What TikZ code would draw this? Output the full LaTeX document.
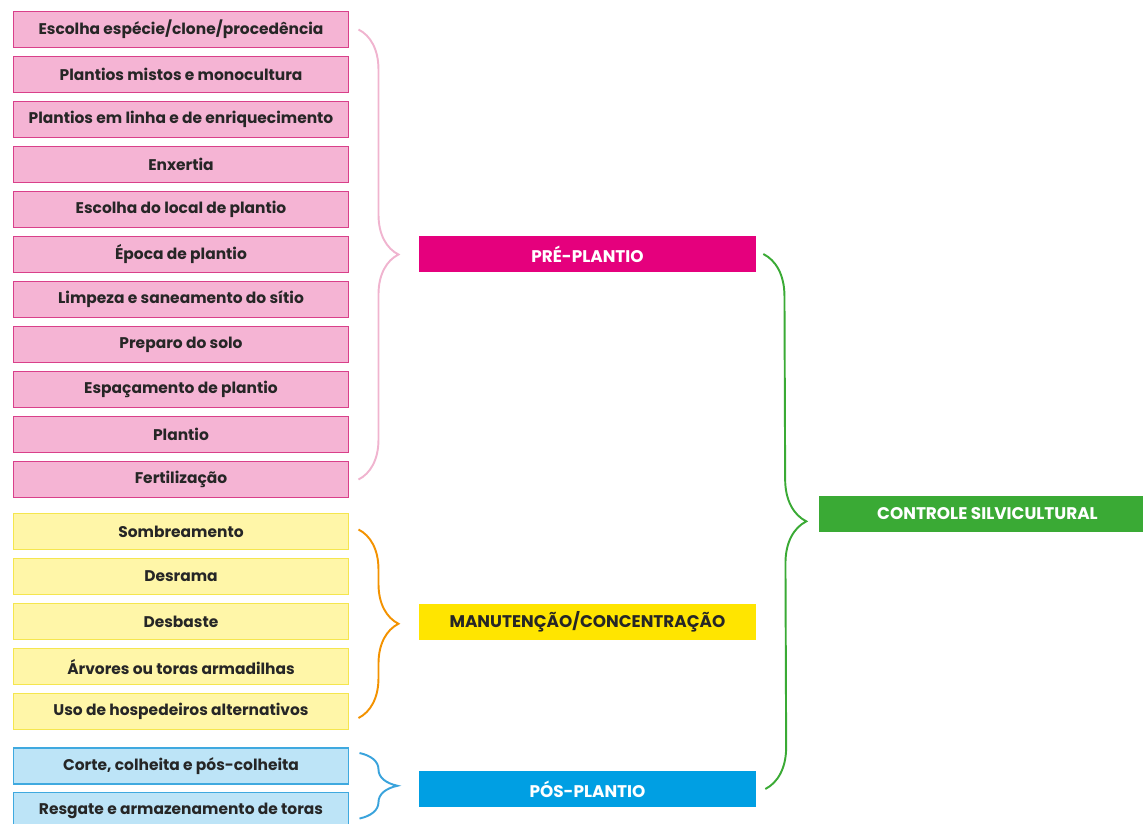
\documentclass[tikz,border=0pt]{standalone}
\usepackage{fontspec}
\setmainfont{Poppins}
\usepackage{xcolor}
\usetikzlibrary{decorations.pathreplacing}
\definecolor{prefill}{HTML}{F5B4D4}
\definecolor{preline}{HTML}{D9408A}
\definecolor{prehead}{HTML}{E5007D}
\definecolor{prebrace}{HTML}{F0B4CF}
\definecolor{manfill}{HTML}{FFF6A8}
\definecolor{manline}{HTML}{F5E64E}
\definecolor{manhead}{HTML}{FFE500}
\definecolor{manbrace}{HTML}{F39200}
\definecolor{posfill}{HTML}{BDE4F7}
\definecolor{posline}{HTML}{3FA9DF}
\definecolor{poshead}{HTML}{009FE3}
\definecolor{posbrace}{HTML}{3AA3DC}
\definecolor{ctrlgreen}{HTML}{3AAA35}

\begin{document}
\begin{tikzpicture}[x=0.02cm, y=-0.02cm,
    item/.style={rectangle, draw, line width=0.6pt, minimum width=6.72cm, minimum height=0.72cm, inner sep=0pt, font=\bfseries\fontsize{8.8}{10}\selectfont, text=black!85},
    preitem/.style={item, fill=prefill, draw=preline},
    manitem/.style={item, fill=manfill, draw=manline},
    positem/.style={item, fill=posfill, draw=posline},
    stage/.style={rectangle, minimum width=6.74cm, minimum height=0.72cm, inner sep=0pt, font=\bfseries\fontsize{9.6}{11}\selectfont},
    bracket/.style={decorate, decoration={brace, amplitude=0.8cm}, line width=1.1pt}
]
    \clip (0,0) rectangle (1143,823);

    % pre-plantio items
    \node[preitem] (esp) at (181,29.5) {Escolha espécie/clone/procedência};
    \node[preitem] (mix) at (181,74.5) {Plantios mistos e monocultura};
    \node[preitem] (lin) at (181,119.5) {Plantios em linha e de enriquecimento};
    \node[preitem] (enx) at (181,164.5) {Enxertia};
    \node[preitem] (loc) at (181,209.5) {Escolha do local de plantio};
    \node[preitem] (epo) at (181,254.5) {Época de plantio};
    \node[preitem] (lim) at (181,299.5) {Limpeza e saneamento do sítio};
    \node[preitem] (sol) at (181,344.5) {Preparo do solo};
    \node[preitem] (spc) at (181,389.5) {Espaçamento de plantio};
    \node[preitem] (pla) at (181,434.5) {Plantio};
    \node[preitem] (fer) at (181,479.5) {Fertilização};

    % manutencao items
    \node[manitem] (som) at (181,531.5) {Sombreamento};
    \node[manitem] (des) at (181,576.5) {Desrama};
    \node[manitem] (dbs) at (181,621.5) {Desbaste};
    \node[manitem] (arm) at (181,666.5) {Árvores ou toras armadilhas};
    \node[manitem] (hos) at (181,711.5) {Uso de hospedeiros alternativos};

    % pos-plantio items
    \node[positem] (cor) at (181,766) {Corte, colheita e pós-colheita};
    \node[positem] (res) at (181,810.5) {Resgate e armazenamento de toras};

    % stages
    \node[stage, fill=prehead, text=white] (pre) at (587.5,254) {PRÉ-PLANTIO};
    \node[stage, fill=manhead, text=black!85] (man) at (587.5,621.5) {MANUTENÇÃO/CONCENTRAÇÃO};
    \node[stage, fill=poshead, text=white] (pos) at (587.5,789) {PÓS-PLANTIO};
    \node[stage, fill=ctrlgreen, text=white] (ctrl) at (987.5,514) {CONTROLE SILVICULTURAL};

    % braces
    \draw[bracket, prebrace] ([xshift=0.18cm]esp.east) -- ([xshift=0.18cm]fer.east);
    \draw[bracket, manbrace] ([xshift=0.18cm, yshift=0.04cm]som.east) -- ([xshift=0.18cm, yshift=-0.13cm]hos.east);
    \draw[bracket, posbrace, decoration={amplitude=0.76cm}] ([xshift=0.2cm, yshift=0.26cm]cor.east) -- ([xshift=0.2cm, yshift=-0.16cm]res.east);
    \draw[bracket, ctrlgreen, decoration={amplitude=0.84cm}] ([xshift=0.14cm]pre.east) -- ([xshift=0.18cm]pos.east);
\end{tikzpicture}
\end{document}
